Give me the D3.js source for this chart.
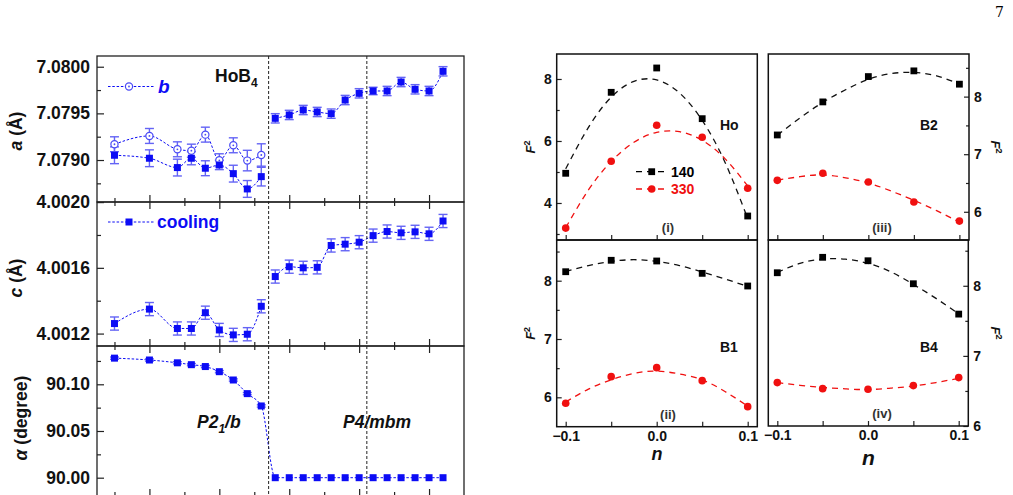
<!DOCTYPE html>
<html>
<head>
<meta charset="utf-8">
<script src="https://cdn.jsdelivr.net/npm/d3@7"></script>
<style>
  body { margin: 0; background: #fff; }
  svg { font-family: "Liberation Sans", Arial, sans-serif; font-weight: bold; }
</style>
</head>
<body>
<svg id="fig" width="1013" height="495"></svg>
<script>
// ---- left figure: lattice parameters vs temperature (x in tick units) ----
const temps = [0, 1, 1.8, 2.2, 2.6, 3, 3.4, 3.8, 4.2, 4.6, 5, 5.4, 5.8, 6.2, 6.6, 7, 7.4, 7.8, 8.2, 8.6, 9, 9.4];
const aVals = [7.079051, 7.079019, 7.078919, 7.079019, 7.078912, 7.078947, 7.078854, 7.07869, 7.078822,
               7.079447, 7.079483, 7.079536, 7.079515, 7.079497, 7.079643, 7.079715, 7.07974, 7.07974,
               7.079836, 7.079758, 7.07974, 7.079951];
const aErr = [0.00009, 0.00009, 0.00009, 0.00007, 0.00008, 0.00005, 0.00009, 0.00009, 0.0001,
              0.00005, 0.00005, 0.00005, 0.00005, 0.00005, 0.00005, 0.00005, 0.00004, 0.00005,
              0.00005, 0.00005, 0.00005, 0.00005];
const bTemps = [0, 1, 1.8, 2.2, 2.6, 3, 3.4, 3.8, 4.2];
const bVals = [7.079169, 7.079258, 7.079115, 7.0791, 7.079272, 7.078997, 7.079158, 7.078994, 7.079054];
const bErr = [0.00008, 0.00008, 0.00008, 0.00007, 0.00008, 0.00007, 0.00008, 0.00011, 0.00012];
const cVals = [4.001261, 4.001349, 4.001231, 4.001231, 4.001327, 4.001222, 4.001192, 4.001196, 4.001366,
               4.001547, 4.001607, 4.0016, 4.001603, 4.001736, 4.001744, 4.001756, 4.001796, 4.001821,
               4.001813, 4.001819, 4.001807, 4.001885];
const cErr = 0.00004;
const alphaVals = [90.128, 90.126, 90.123, 90.121, 90.119, 90.1135, 90.1046, 90.090, 90.0768,
                   90, 90, 90, 90, 90, 90, 90, 90, 90, 90, 90, 90, 90];
const phaseLines = [4.41, 7.22];
const tempTicks = d3.range(0, 10, 1);

// ---- right figure: F^2 vs n ----
const nVals = [-0.1, -0.05, 0, 0.05, 0.1];
const nFit = [-0.1, -0.075, -0.05, -0.025, 0, 0.025, 0.05, 0.075, 0.1];
const ho140 = [4.958, 7.57, 8.355, 6.72, 3.58];
const ho330 = [3.19, 5.345, 6.506, 6.12, 4.474];
const ho140Fit = [5.1, 6.44, 7.415, 7.925, 7.97, 7.55, 6.665, 5.315, 3.5];
const ho330Fit = [3.2, 4.42, 5.34, 5.96, 6.28, 6.3, 6.02, 5.43, 4.55];
const b2_140 = [7.334, 7.908, 8.348, 8.447, 8.216];
const b2_330 = [6.546, 6.668, 6.517, 6.169, 5.838];
const b2_140Fit = [7.33, 7.63, 7.9, 8.12, 8.3, 8.4, 8.42, 8.36, 8.22];
const b2_330Fit = [6.55, 6.61, 6.64, 6.59, 6.5, 6.36, 6.2, 6.02, 5.82];
const b1_140 = [8.154, 8.35, 8.338, 8.126, 7.909];
const b1_330 = [5.897, 6.354, 6.509, 6.286, 5.84];
const b1_140Fit = [8.16, 8.26, 8.33, 8.36, 8.33, 8.26, 8.15, 8.03, 7.9];
const b1_330Fit = [5.92, 6.14, 6.3, 6.41, 6.45, 6.4, 6.3, 6.1, 5.85];
const b4_140 = [8.186, 8.406, 8.357, 8.029, 7.596];
const b4_330 = [6.619, 6.533, 6.524, 6.576, 6.69];
const b4_140Fit = [8.19, 8.32, 8.38, 8.38, 8.32, 8.2, 8.02, 7.82, 7.6];
const b4_330Fit = [6.62, 6.58, 6.55, 6.53, 6.52, 6.54, 6.57, 6.62, 6.68];

const BLUE = '#0c0cf5';
const svg = d3.select('#fig');

// page number
svg.append('text').attr('x', 1004).attr('y', 17).attr('text-anchor', 'end')
  .style('font-family', '"DejaVu Serif","Liberation Serif",serif')
  .style('font-weight', 'normal').style('font-size', '14px').text('7');

// ===================== left panels =====================
const xT = d3.scaleLinear().domain([-0.5, 10]).range([97, 464]);

function styleAxis(g, size) {
  g.select('.domain').remove();
  g.selectAll('line').attr('stroke', '#222').attr('stroke-width', 1.2);
  g.selectAll('text').attr('fill', '#111')
    .style('font-family', '"Liberation Sans", Arial, sans-serif')
    .style('font-weight', 'bold').style('font-size', size);
}

function leftPanel(opt) {
  const y = d3.scaleLinear().domain(opt.domain).range([opt.bottom, opt.top]);
  const g = svg.append('g');
  // x ticks (no labels)
  const major = tempTicks.filter(d => d % 2 === 1);
  const minor = tempTicks.filter(d => d % 2 === 0);
  if (opt.topTicks) {
    g.append('g').attr('transform', `translate(0,${opt.top})`)
      .call(d3.axisTop(xT).tickValues(major).tickSize(-7).tickFormat('')).call(s => styleAxis(s, '10px'));
    g.append('g').attr('transform', `translate(0,${opt.top})`)
      .call(d3.axisTop(xT).tickValues(minor).tickSize(-4).tickFormat('')).call(s => styleAxis(s, '10px'));
  }
  g.append('g').attr('transform', `translate(0,${opt.bottom})`)
    .call(d3.axisBottom(xT).tickValues(major).tickSize(-7).tickFormat('')).call(s => styleAxis(s, '10px'));
  g.append('g').attr('transform', `translate(0,${opt.bottom})`)
    .call(d3.axisBottom(xT).tickValues(minor).tickSize(-4).tickFormat('')).call(s => styleAxis(s, '10px'));
  // y ticks
  g.append('g').attr('transform', `translate(${xT.range()[0]},0)`)
    .call(d3.axisLeft(y).tickValues(opt.major).tickSize(-7).tickPadding(7).tickFormat(opt.fmt))
    .call(s => styleAxis(s, '17.5px'));
  g.append('g').attr('transform', `translate(${xT.range()[0]},0)`)
    .call(d3.axisLeft(y).tickValues(opt.minor).tickSize(-4).tickFormat(''))
    .call(s => styleAxis(s, '10px'));
  // frame
  g.append('rect').attr('x', 97).attr('y', opt.top).attr('width', 367).attr('height', opt.bottom - opt.top)
    .attr('fill', 'none').attr('stroke', '#222').attr('stroke-width', 1.3);
  return y;
}

const lineGen = (x, y) => d3.line().x(d => x(d[0])).y(d => y(d[1])).curve(d3.curveMonotoneX);

function errBars(y, xs, vs, es, cap) {
  const g = svg.append('g').attr('stroke', '#6464f5').attr('stroke-width', 1.4);
  xs.forEach((t, i) => {
    const e = Array.isArray(es) ? es[i] : es;
    const cx = xT(t), y1 = y(vs[i] - e), y2 = y(vs[i] + e);
    g.append('line').attr('x1', cx).attr('x2', cx).attr('y1', y1).attr('y2', y2);
    g.append('line').attr('x1', cx - cap).attr('x2', cx + cap).attr('y1', y1).attr('y2', y1);
    g.append('line').attr('x1', cx - cap).attr('x2', cx + cap).attr('y1', y2).attr('y2', y2);
  });
}
function dottedLine(y, xs, vs) {
  svg.append('path').datum(xs.map((t, i) => [t, vs[i]]))
    .attr('d', lineGen(xT, y)).attr('fill', 'none').attr('stroke', BLUE)
    .attr('stroke-width', 1).attr('stroke-dasharray', '2.5,1.8');
}
function squares(y, xs, vs, s) {
  svg.append('g').selectAll('rect').data(xs).join('rect')
    .attr('x', (t) => xT(t) - s / 2).attr('y', (t, i) => y(vs[i]) - s / 2)
    .attr('width', s).attr('height', s).attr('fill', BLUE);
}
function openCircles(y, xs, vs) {
  const g = svg.append('g');
  xs.forEach((t, i) => {
    g.append('circle').attr('cx', xT(t)).attr('cy', y(vs[i])).attr('r', 3.6)
      .attr('fill', '#fff').attr('stroke', '#4a4af5').attr('stroke-width', 1.2);
    g.append('circle').attr('cx', xT(t)).attr('cy', y(vs[i])).attr('r', 0.9).attr('fill', '#4a4af5');
  });
}

// panel a / b
const yA = leftPanel({ top: 56, bottom: 202, domain: [7.07855, 7.080115],
  major: [7.079, 7.0795, 7.08], minor: [7.07875, 7.07925, 7.07975], fmt: d3.format('.4f'), topTicks: false });
const n1 = 9;
dottedLine(yA, bTemps, bVals);
dottedLine(yA, temps.slice(0, n1), aVals.slice(0, n1));
dottedLine(yA, temps.slice(n1), aVals.slice(n1));
errBars(yA, bTemps, bVals, bErr, 4.5);
errBars(yA, temps, aVals, aErr, 4.5);
openCircles(yA, bTemps, bVals);
squares(yA, temps, aVals, 7);

// legend b
svg.append('line').attr('x1', 108).attr('x2', 155).attr('y1', 86.5).attr('y2', 86.5)
  .attr('stroke', BLUE).attr('stroke-dasharray', '2.5,1.8');
svg.append('circle').attr('cx', 129).attr('cy', 86.5).attr('r', 3.6).attr('fill', '#fff')
  .attr('stroke', '#4a4af5').attr('stroke-width', 1.2);
svg.append('circle').attr('cx', 129).attr('cy', 86.5).attr('r', 0.9).attr('fill', '#4a4af5');
svg.append('text').attr('x', 158).attr('y', 93).attr('fill', BLUE).style('font-size', '19px')
  .style('font-style', 'italic').text('b');
const hob = svg.append('text').attr('x', 215).attr('y', 82).attr('fill', '#111').style('font-size', '17.5px');
hob.append('tspan').text('HoB');
hob.append('tspan').attr('dy', 5).style('font-size', '12px').text('4');

// panel c
const yC = leftPanel({ top: 202, bottom: 346, domain: [4.0011244, 4.0020006],
  major: [4.0012, 4.0016, 4.002], minor: [4.0014, 4.0018], fmt: d3.format('.4f'), topTicks: true });
dottedLine(yC, temps.slice(0, n1), cVals.slice(0, n1));
dottedLine(yC, temps.slice(n1), cVals.slice(n1));
errBars(yC, temps, cVals, cErr, 4.5);
squares(yC, temps, cVals, 7);
svg.append('line').attr('x1', 108).attr('x2', 155).attr('y1', 222).attr('y2', 222)
  .attr('stroke', BLUE).attr('stroke-dasharray', '2.5,1.8');
svg.append('rect').attr('x', 125.5).attr('y', 218.5).attr('width', 7).attr('height', 7).attr('fill', BLUE);
svg.append('text').attr('x', 157).attr('y', 228).attr('fill', BLUE).style('font-size', '17.5px').text('cooling');

// panel alpha (bottom frame edge falls just below the picture)
const yAl = leftPanel({ top: 346, bottom: 496, domain: [89.9804, 90.141],
  major: [90, 90.05, 90.1], minor: [90.025, 90.075, 90.125], fmt: d3.format('.2f'), topTicks: true });
dottedLine(yAl, temps, alphaVals);
errBars(yAl, temps.slice(0, n1), alphaVals.slice(0, n1), 0.0012, 4.5);
squares(yAl, temps, alphaVals, 7);
svg.append('text').attr('x', 197).attr('y', 428).attr('fill', '#111')
  .style('font-size', '17.5px').style('font-style', 'italic')
  .call(t => { t.append('tspan').text('P2'); t.append('tspan').attr('dy', 5).style('font-size', '12px').text('1');
               t.append('tspan').attr('dy', -5).text('/b'); });
svg.append('text').attr('x', 343).attr('y', 428).attr('fill', '#111')
  .style('font-size', '17.5px').style('font-style', 'italic').text('P4/mbm');

// phase boundaries
phaseLines.forEach(t => {
  svg.append('line').attr('x1', xT(t)).attr('x2', xT(t)).attr('y1', 56).attr('y2', 495)
    .attr('stroke', '#222').attr('stroke-width', 1).attr('stroke-dasharray', '3,2');
});

// y labels
function yLabel(x, y, parts, rot) {
  const t = svg.append('text').attr('transform', `translate(${x},${y}) rotate(${rot})`)
    .attr('text-anchor', 'middle').attr('fill', '#111').style('font-size', '17.5px');
  parts.forEach(p => t.append('tspan').style('font-style', p[1] ? 'italic' : 'normal').text(p[0]));
  return t;
}
yLabel(22, 131, [['a', true], [' (Å)', false]], -90);
yLabel(22, 278, [['c', true], [' (Å)', false]], -90);
yLabel(27, 418, [['α', true], [' (degree)', false]], -90);

// ===================== right panels =====================
const panels = [
  { x0: 556.7, x1: 757.3, y0: 54, y1: 240, dom: [2.806, 8.806], major: [4, 6, 8], minor: [3, 5, 7],
    side: 'left', s140: ho140, s330: ho330, f140: ho140Fit, f330: ho330Fit, name: 'Ho', nx: 720, ny: 130,
    tag: '(i)', tx: 668, xlab: false },
  { x0: 768.3, x1: 969, y0: 54, y1: 240, dom: [5.51, 8.74], major: [6, 7, 8], minor: [6.5, 7.5, 8.5],
    side: 'right', s140: b2_140, s330: b2_330, f140: b2_140Fit, f330: b2_330Fit, name: 'B2', nx: 920, ny: 130,
    tag: '(iii)', tx: 882, xlab: false },
  { x0: 556.7, x1: 757.3, y0: 240, y1: 426.7, dom: [5.496, 8.698], major: [6, 7, 8], minor: [6.5, 7.5, 8.5],
    side: 'left', s140: b1_140, s330: b1_330, f140: b1_140Fit, f330: b1_330Fit, name: 'B1', nx: 720, ny: 352,
    tag: '(ii)', tx: 668, xlab: true, nsize: '18px', ny2: 460 },
  { x0: 768.3, x1: 968.3, y0: 240, y1: 426, dom: [6, 8.653], major: [6, 7, 8], minor: [6.5, 7.5, 8.5],
    side: 'right', s140: b4_140, s330: b4_330, f140: b4_140Fit, f330: b4_330Fit, name: 'B4', nx: 920, ny: 352,
    tag: '(iv)', tx: 882, xlab: true, nsize: '21px', ny2: 465 }
];

panels.forEach(p => {
  const x = d3.scaleLinear().domain([-0.1, 0.1]).range([p.x0 + 9, p.x1 - 9.6]);
  const y = d3.scaleLinear().domain(p.dom).range([p.y1, p.y0]);
  const g = svg.append('g');
  // x axis (inward ticks)
  g.append('g').attr('transform', `translate(0,${p.y1})`)
    .call(d3.axisBottom(x).tickValues(nVals).tickSize(-5).tickPadding(4)
      .tickFormat(d => p.xlab && (d === -0.1 || d === 0 || d === 0.1) ? d3.format('.1f')(d) : ''))
    .call(s => styleAxis(s, '14px'));
  // y axis
  const ax = p.side === 'left' ? d3.axisLeft(y) : d3.axisRight(y);
  const yx = p.side === 'left' ? p.x0 : p.x1;
  g.append('g').attr('transform', `translate(${yx},0)`)
    .call(ax.tickValues(p.major).tickSize(-5).tickPadding(5).tickFormat(d3.format('d')))
    .call(s => styleAxis(s, '14px'));
  const ax2 = p.side === 'left' ? d3.axisLeft(y) : d3.axisRight(y);
  g.append('g').attr('transform', `translate(${yx},0)`)
    .call(ax2.tickValues(p.minor).tickSize(-3).tickFormat(''))
    .call(s => styleAxis(s, '10px'));
  g.append('rect').attr('x', p.x0).attr('y', p.y0).attr('width', p.x1 - p.x0).attr('height', p.y1 - p.y0)
    .attr('fill', 'none').attr('stroke', '#111').attr('stroke-width', 1.5);

  const fit = d3.line().x(d => x(d[0])).y(d => y(d[1])).curve(d3.curveNatural);
  g.append('path').datum(nFit.map((n, i) => [n, p.f140[i]])).attr('d', fit)
    .attr('fill', 'none').attr('stroke', '#111').attr('stroke-width', 1.3).attr('stroke-dasharray', '6,5');
  g.append('path').datum(nFit.map((n, i) => [n, p.f330[i]])).attr('d', fit)
    .attr('fill', 'none').attr('stroke', '#f01010').attr('stroke-width', 1.3).attr('stroke-dasharray', '6,5');
  g.selectAll('rect.sq').data(nVals).join('rect').attr('class', 'sq')
    .attr('x', d => x(d) - 3.4).attr('y', (d, i) => y(p.s140[i]) - 3.4)
    .attr('width', 6.8).attr('height', 6.8).attr('fill', '#000');
  g.selectAll('circle.ci').data(nVals).join('circle').attr('class', 'ci')
    .attr('cx', d => x(d)).attr('cy', (d, i) => y(p.s330[i])).attr('r', 3.8).attr('fill', '#f01010');

  g.append('text').attr('x', p.nx).attr('y', p.ny).attr('fill', '#111').style('font-size', '14px').text(p.name);
  g.append('text').attr('x', p.tx).attr('y', p.y1 - 8).attr('text-anchor', 'middle').attr('fill', '#333')
    .style('font-size', '13px').text(p.tag);

  // F^2 label
  const fx = p.side === 'left' ? 535 : 991;
  const fy = (p.y0 + p.y1) / 2;
  const lab = g.append('text').attr('transform', `translate(${fx},${fy}) rotate(${p.side === 'left' ? -90 : 90})`)
    .attr('text-anchor', 'middle').attr('fill', '#111').style('font-size', '13px');
  lab.append('tspan').style('font-style', 'italic').text('F');
  lab.append('tspan').attr('dy', -5).style('font-size', '9px').text('2');

  if (p.xlab) {
    g.append('text').attr('x', (p.x0 + p.x1) / 2).attr('y', p.ny2).attr('text-anchor', 'middle')
      .attr('fill', '#111').style('font-size', p.nsize).style('font-style', 'italic').text('n');
  }
});

// legend in panel (i)
const legY = [[171.7, '#000', '140', 'sq'], [189, '#f01010', '330', 'ci']];
legY.forEach(l => {
  svg.append('line').attr('x1', 636).attr('x2', 668).attr('y1', l[0]).attr('y2', l[0])
    .attr('stroke', l[1]).attr('stroke-width', 1.3).attr('stroke-dasharray', '6,5');
  if (l[3] === 'sq') svg.append('rect').attr('x', 648.3).attr('y', l[0] - 3.4).attr('width', 6.8).attr('height', 6.8).attr('fill', l[1]);
  else svg.append('circle').attr('cx', 651.7).attr('cy', l[0]).attr('r', 3.8).attr('fill', l[1]);
  svg.append('text').attr('x', 671).attr('y', l[0] + 5).attr('fill', l[1]).style('font-size', '14px').text(l[2]);
});
</script>
</body>
</html>
